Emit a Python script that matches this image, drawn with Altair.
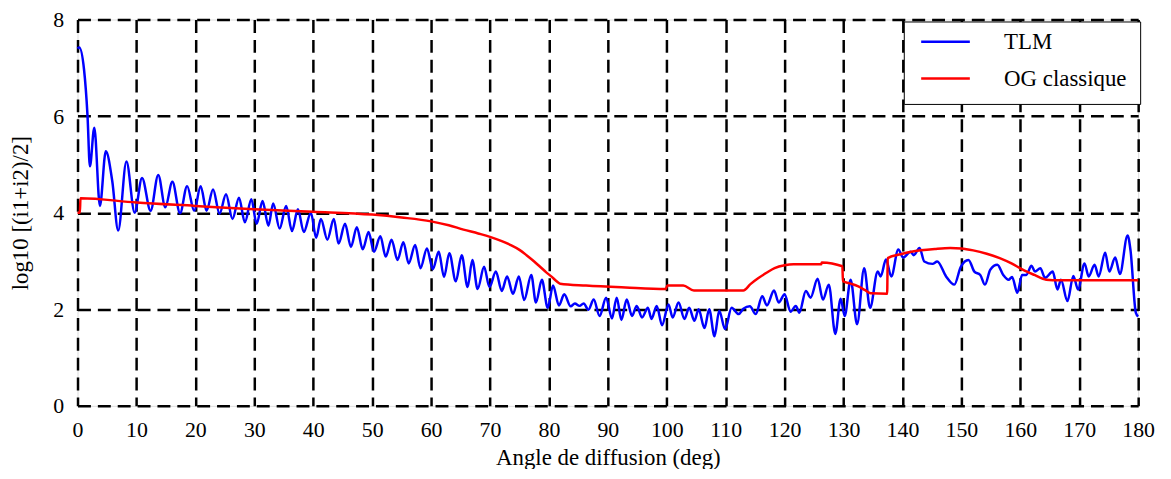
import altair as alt
import pandas as pd

# ---- data ----
tlm_x = [0.0, 0.3, 1.1, 1.7, 2.1, 2.85, 3.8, 4.8, 5.9, 6.9, 8.3, 9.7, 10.95, 12.4, 13.7, 14.9,
         16.1, 17.4, 18.6, 19.8, 20.9, 21.9, 23.0, 24.1, 25.2, 26.3, 27.4, 28.4, 29.5, 30.4,
         31.4, 32.4, 33.2, 34.3, 35.4, 36.4, 37.4, 38.4, 39.6, 40.5, 41.3, 42.4, 43.5, 44.3,
         45.4, 46.4, 47.4, 48.4, 49.4, 50.3, 51.4, 52.3, 53.3, 54.3, 55.3, 56.2, 57.3, 58.2,
         59.3, 60.3, 61.3, 62.2, 63.1, 64.2, 65.2, 66.2, 67.0, 67.9, 69.0, 69.9, 71.0, 72.0,
         72.9, 73.9, 74.9, 75.8, 77.0, 77.8, 78.8, 79.8, 80.7, 81.7, 82.6, 83.7, 84.4, 85.2,
         85.9, 86.7, 87.6, 88.6, 89.7, 90.7, 91.5, 92.3, 93.2, 94.1, 94.9, 95.8, 96.8, 97.4,
         98.3, 99.2, 100.3, 101.0, 102.0, 103.0, 103.8, 104.7, 105.4, 106.4, 107.2, 108.1,
         108.9, 109.9, 111.0, 112.2, 113.0, 114.1, 115.1, 116.2, 117.0, 118.2, 119.0, 120.0,
         121.0, 121.9, 122.5, 123.6, 124.4, 125.6, 126.5, 127.5, 128.6, 129.5, 130.2, 131.2,
         132.3, 133.5, 134.5, 135.8, 136.3, 137.2, 138.1, 139.3, 140.1, 141.4, 141.9, 142.9,
         143.7, 145.1, 145.9, 147.4, 148.8, 149.9, 151.2, 152.2, 153.2, 154.0, 154.9, 156.1,
         157.1, 158.0, 158.6, 159.5, 160.3, 161.0, 161.9, 162.5, 163.4, 164.2, 165.5, 166.3,
         166.9, 168.0, 169.0, 169.8, 170.9, 171.6, 172.6, 173.3, 174.4, 175.1, 176.1, 176.9,
         178.2, 178.7, 179.6, 180.0]
tlm_y = [7.40, 7.42, 6.97, 6.00, 4.96, 5.76, 4.14, 5.27, 4.65, 3.63, 5.06, 4.00, 4.72, 4.04, 4.78, 4.11,
         4.64, 3.99, 4.55, 4.04, 4.55, 4.04, 4.48, 3.98, 4.38, 3.87, 4.31, 3.80, 4.28, 3.77,
         4.24, 3.73, 4.19, 3.67, 4.14, 3.62, 4.07, 3.60, 4.00, 3.48, 3.87, 3.44, 3.87, 3.36,
         3.77, 3.29, 3.70, 3.24, 3.60, 3.19, 3.51, 3.09, 3.44, 3.02, 3.39, 2.95, 3.33, 2.85,
         3.26, 2.83, 3.19, 2.67, 3.16, 2.58, 3.12, 2.46, 3.02, 2.42, 2.88, 2.46, 2.78, 2.38,
         2.68, 2.32, 2.68, 2.19, 2.71, 2.14, 2.61, 2.03, 2.49, 2.08, 2.31, 2.06, 2.12, 2.07,
         2.12, 1.99, 2.20, 1.86, 2.24, 1.81, 2.24, 1.78, 2.20, 1.86, 2.07, 1.83, 2.03, 1.80,
         2.07, 1.67, 2.10, 1.83, 2.14, 1.80, 2.03, 1.76, 2.00, 1.61, 2.00, 1.44,
         1.97, 1.59, 2.03, 1.90, 2.01, 2.06, 1.90, 2.27, 2.08, 2.39, 2.14, 2.31,
         1.95, 2.07, 1.93, 2.38, 2.24, 2.63, 2.20, 2.51, 1.49, 2.22, 1.86, 2.61,
         1.69, 2.85, 2.03, 2.78, 2.68, 3.03, 2.68, 3.24, 3.07, 3.19, 3.12, 3.27,
         2.99, 2.94, 2.99, 2.68, 2.51, 2.88, 3.02, 2.78, 2.71, 2.51, 2.82, 2.92,
         2.71, 2.61, 2.67, 2.34, 2.71, 2.71, 2.90, 2.78, 2.85, 2.65, 2.78, 2.41,
         2.61, 2.17, 2.69, 2.41, 2.95, 2.68, 2.92, 2.68, 3.17, 2.78, 3.07, 2.73,
         3.53, 3.22, 1.93, 1.85]

og_x = [0.0, 0.4, 0.5, 10.0, 20.0, 30.0, 40.0, 50.0, 55.0, 60.0, 63.0, 65.5, 68.0, 70.0, 72.0,
        73.5, 75.0, 76.2, 77.5, 78.5, 79.5, 80.5, 81.3, 81.9, 86.3, 93.0, 99.8, 100.1, 102.8,
        104.6, 113.0, 114.2, 115.5, 117.0, 118.3, 120.0, 121.5, 126.2, 126.3, 129.8, 129.9,
        131.2, 132.4, 133.6, 134.6, 137.4, 137.5, 139.7, 141.5, 143.1, 145.5, 148.1, 150.0,
        152.0, 154.3, 156.5, 158.5, 160.4, 162.4, 164.4, 165.5, 180.0]
og_y = [4.00, 4.00, 4.30, 4.21, 4.14, 4.07, 4.02, 3.96, 3.90, 3.82, 3.74, 3.65, 3.57, 3.50, 3.41,
        3.33, 3.23, 3.12, 2.99, 2.88, 2.77, 2.67, 2.58, 2.53, 2.49, 2.45, 2.42, 2.49, 2.49,
        2.39, 2.39, 2.52, 2.64, 2.76, 2.85, 2.91, 2.93, 2.93, 2.97, 2.89, 2.58,
        2.53, 2.48, 2.40, 2.33, 2.32, 3.06, 3.14, 3.19, 3.22, 3.25, 3.27, 3.26,
        3.22, 3.15, 3.06, 2.95, 2.82, 2.71, 2.61, 2.60, 2.60]

series_names = ["TLM", "OG classique"]
series_colors = ["#0000ff", "#ff0000"]
x_ticks = list(range(0, 181, 10))
y_ticks = [0, 2, 4, 6, 8]

FONT = "Liberation Serif"

df_tlm = pd.DataFrame({"angle": tlm_x, "value": tlm_y, "series": series_names[0]})
df_og = pd.DataFrame({"angle": og_x, "value": og_y, "series": series_names[1]})

x_enc = alt.X(
    "angle:Q",
    scale=alt.Scale(domain=[0, 180], nice=False, zero=False),
    axis=alt.Axis(
        values=x_ticks, title="Angle de diffusion (deg)", labelFlush=False,
        grid=True, gridDash=[13, 7], gridColor="black", gridWidth=2.5, gridOpacity=1,
        ticks=False, domain=False, labelFont=FONT, labelFontSize=22, labelColor="black",
        labelPadding=14, titleFont=FONT, titleFontSize=23, titleFontWeight="normal",
        titleColor="black", titlePadding=6,
    ),
)
y_enc = alt.Y(
    "value:Q",
    scale=alt.Scale(domain=[0, 8], nice=False, zero=False),
    axis=alt.Axis(
        values=y_ticks, title="log10 [(i1+i2)/2]", labelFlush=False,
        grid=True, gridDash=[13, 7], gridColor="black", gridWidth=2.5, gridOpacity=1,
        ticks=False, domain=False, labelFont=FONT, labelFontSize=22, labelColor="black",
        labelPadding=14, titleFont=FONT, titleFontSize=23, titleFontWeight="normal",
        titleColor="black", titlePadding=20,
    ),
)
color_enc = alt.Color(
    "series:N",
    scale=alt.Scale(domain=series_names, range=series_colors),
    legend=alt.Legend(
        title=None, orient="none", legendX=832, legendY=2,
        symbolType="stroke", symbolSize=2400, symbolStrokeWidth=2.5, symbolOffset=3,
        labelFont=FONT, labelFontSize=23, labelColor="black", labelOffset=33,
        padding=13, clipHeight=15, rowPadding=13,
        strokeColor="black", fillColor="white",
    ),
)

blue = alt.Chart(df_tlm).mark_line(strokeWidth=2.5, interpolate="monotone").encode(
    x=x_enc, y=y_enc, color=color_enc)
red = alt.Chart(df_og).mark_line(strokeWidth=2.5, interpolate="monotone").encode(
    x=x_enc, y=y_enc, color=color_enc)

chart = alt.layer(blue, red).properties(
    width=1068, height=389,
    autosize=alt.AutoSizeParams(type="none"),
    padding={"left": 70, "top": 10, "right": 25, "bottom": 62},
).configure_view(stroke="black", strokeWidth=3).configure(background="white")

chart.save("out.html", embed_options={"renderer": "svg", "actions": False})
